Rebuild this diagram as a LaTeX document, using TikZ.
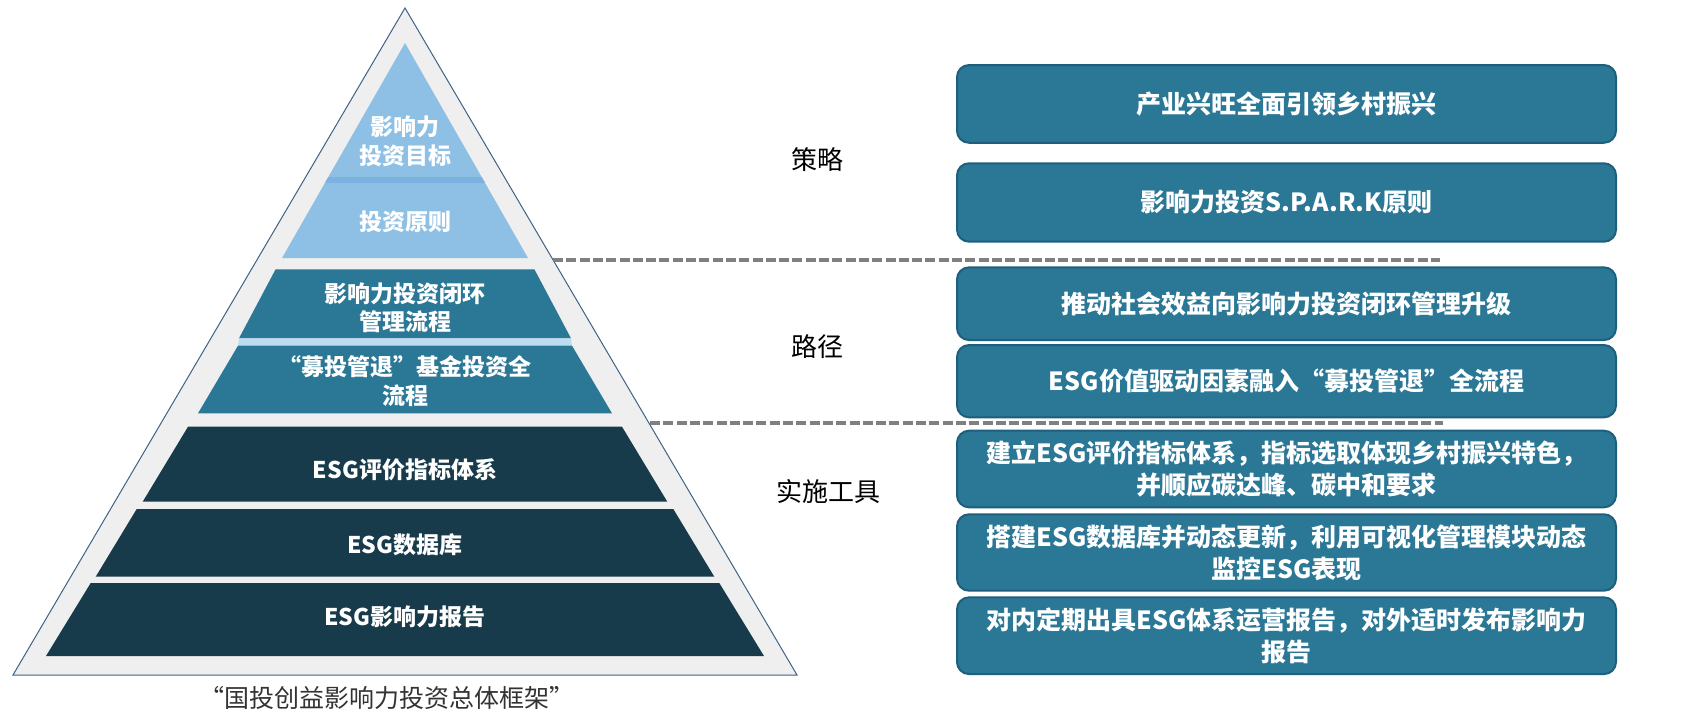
\documentclass[tikz,border=0pt]{standalone}
\usepackage{fontspec}
\setmainfont{Noto Sans CJK SC}
\definecolor{lightblue}{HTML}{8DC0E4}
\definecolor{bandblue}{HTML}{7DB1DF}
\definecolor{tealc}{HTML}{2A7796}
\definecolor{paleband}{HTML}{BCDCF2}
\definecolor{darkteal}{HTML}{183B4B}
\definecolor{outergray}{HTML}{EFEFEF}
\definecolor{outline}{HTML}{3F6287}
\definecolor{boxborder}{HTML}{1E5F7D}
\definecolor{dashgray}{HTML}{808080}
\definecolor{captiongray}{HTML}{333333}
\tikzset{
  pyrtext/.style={text=white, font=\fontsize{23}{28.5}\selectfont\bfseries, align=center, inner sep=0pt},
  sidebox/.style={draw=boxborder, line width=2pt, fill=tealc, rounded corners=12pt,
    minimum width=659pt, text=white, font=\fontsize{25}{32}\selectfont\bfseries, align=center, inner sep=0pt},
  midlabel/.style={text=black, font=\fontsize{26}{30}\selectfont, inner sep=0pt},
  sepline/.style={draw=dashgray, line width=3.3pt, dash pattern=on 10pt off 3.3pt}
}
\newcommand{\trap}[5]{% color, ytop, hwtop, ybot, hwbot
  \fill[#1] ({405-#3},#2) -- ({405+#3},#2) -- ({405+#5},#4) -- ({405-#5},#4) -- cycle;}
\begin{document}
\begin{tikzpicture}[x=1pt,y=-1pt]
\useasboundingbox[fill=white] (0,0) rectangle (1697,726);
% outer triangle
\filldraw[fill=outergray, draw=outline, line width=1pt] (405,8) -- (797,675) -- (13,675) -- cycle;
% top light blue triangle
\fill[lightblue] (405,43) -- (528,258) -- (282,258) -- cycle;
\trap{bandblue}{177}{76.7}{183}{80.1}
% layer 2 and 3
\trap{tealc}{269.3}{129.4}{338.3}{166}
\trap{paleband}{338.3}{166}{345.7}{167}
\trap{tealc}{345.7}{167}{413.3}{207}
% bottom layers
\trap{darkteal}{426.7}{217}{501.7}{262.3}
\trap{darkteal}{509}{268.3}{576.7}{309.3}
\trap{darkteal}{583}{314.3}{656}{359}
% pyramid texts
\node[pyrtext] (t1) at (405,141.5) {影响力\\投资目标};
\node[pyrtext] (t2) at (405,221.7) {投资原则};
\node[pyrtext] (t3) at (405,307.5) {影响力投资闭环\\管理流程};
\node[pyrtext] (t4) at (405,381) {“募投管退”基金投资全\\流程};
\node[pyrtext] (t5) at (405,470) {ESG评价指标体系};
\node[pyrtext] (t6) at (405,545) {ESG数据库};
\node[pyrtext] (t7) at (405,616.7) {ESG影响力报告};
\node[text=captiongray, font=\fontsize{25}{30}\selectfont, inner sep=0pt] (cap) at (387,698) {“国投创益影响力投资总体框架”};
% middle labels
\node[midlabel] (m1) at (817.5,160) {策略};
\node[midlabel] (m2) at (817.5,346.7) {路径};
\node[midlabel] (m3) at (828,491.7) {实施工具};
% dashed separators
\coordinate (d1a) at (553,260);
\coordinate (d1b) at (1440,260);
\coordinate (d2a) at (650,423);
\coordinate (d2b) at (1443,423);
\draw[sepline] (d1a) -- (d1b);
\draw[sepline] (d2a) -- (d2b);
% right boxes
\node[sidebox, minimum height=77.7pt] (b1) at (1286.5,103.9) {产业兴旺全面引领乡村振兴};
\node[sidebox, minimum height=78.4pt] (b2) at (1286.5,202.5) {影响力投资S.P.A.R.K原则};
\node[sidebox, minimum height=72.7pt] (b3) at (1286.5,303.7) {推动社会效益向影响力投资闭环管理升级};
\node[sidebox, minimum height=72.3pt] (b4) at (1286.5,381.2) {ESG价值驱动因素融入“募投管退”全流程};
\node[sidebox, minimum height=76.6pt] (b5) at (1286.5,469) {建立ESG评价指标体系，指标选取体现乡村振兴特色，\\并顺应碳达峰、碳中和要求};
\node[sidebox, minimum height=76.4pt] (b6) at (1286.5,552.5) {搭建ESG数据库并动态更新，利用可视化管理模块动态\\监控ESG表现};
\node[sidebox, minimum height=76.7pt] (b7) at (1286.5,635.7) {对内定期出具ESG体系运营报告，对外适时发布影响力\\报告};
\end{tikzpicture}
\end{document}
